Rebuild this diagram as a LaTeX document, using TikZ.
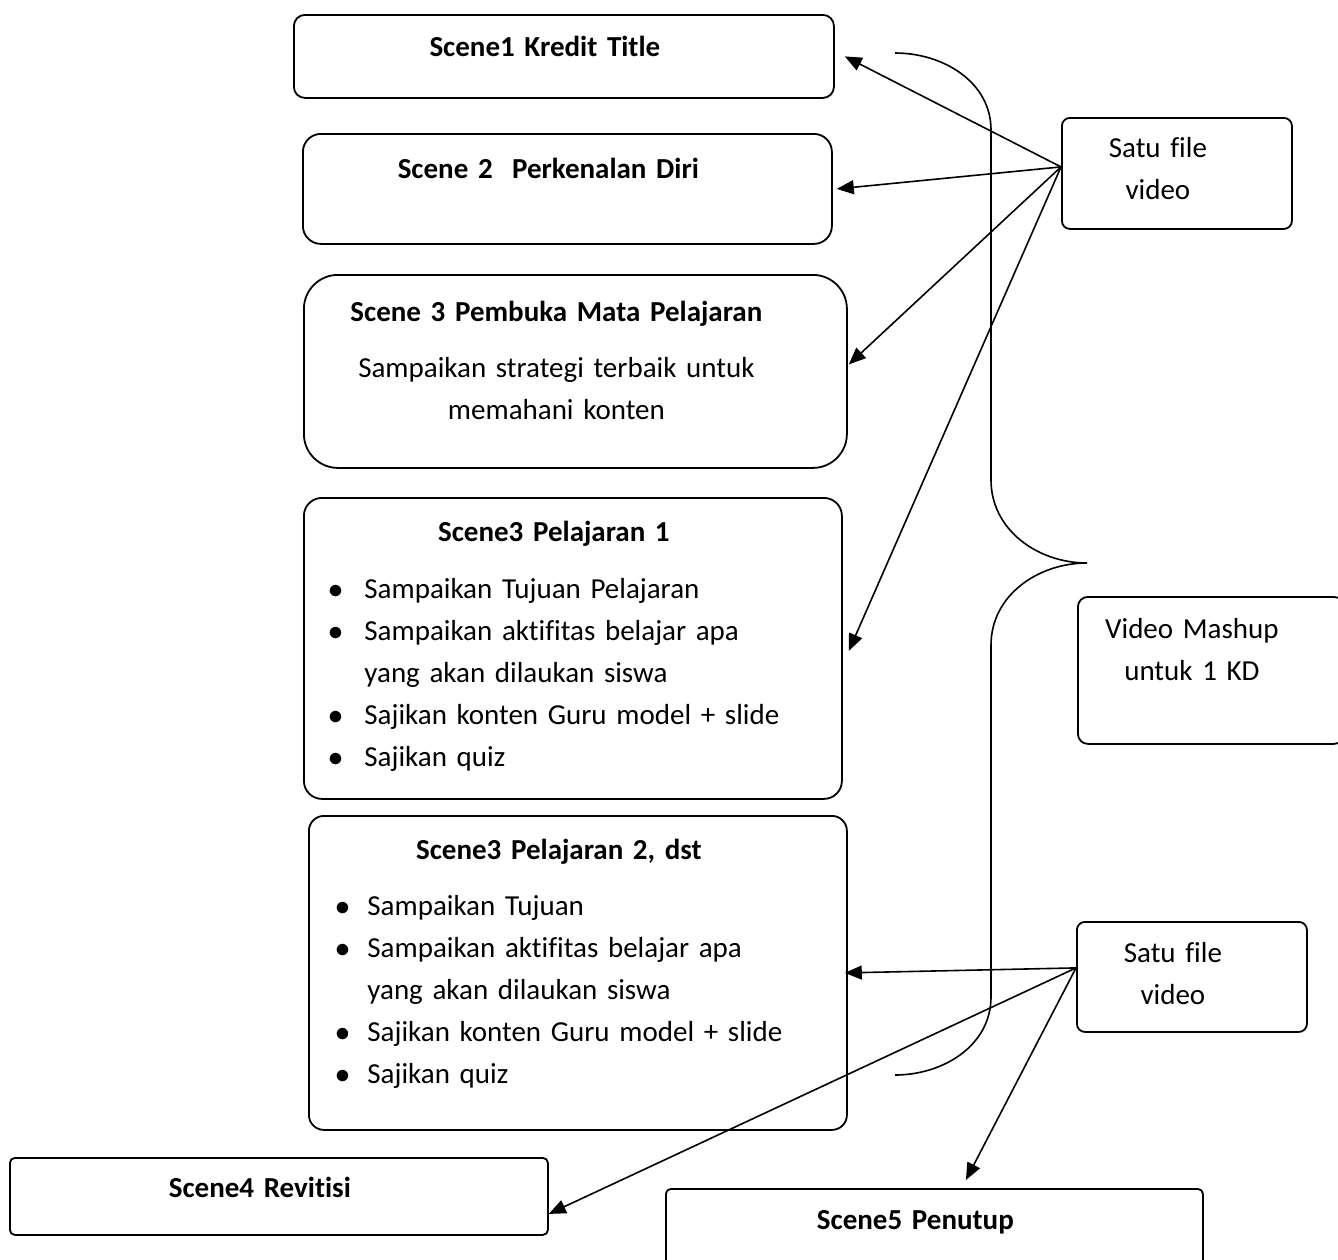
\documentclass[tikz,border=0pt]{standalone}
\usepackage{fontspec}
\setmainfont{Carlito}[Ligatures=NoCommon]
\usetikzlibrary{arrows.meta}

\newcommand{\bul}{\scalebox{1.2}{$\bullet$}}

\begin{document}
\begin{tikzpicture}[
  x=1pt, y=-1pt,
  every node/.style={font=\fontsize{29}{42}\selectfont},
  scene/.style={draw, line width=1.8pt, anchor=north west, align=center, inner sep=0pt,
    execute at begin node={\advance\rightskip by 38pt}},
  arrow/.style={-{Triangle[length=17pt,width=14pt]}, line width=1.6pt},
  brace/.style={line width=1.6pt}
]
\useasboundingbox (0,0) rectangle (1338,1259);

\node[scene, rounded corners=11pt, text width=540pt, text height=42pt, text depth=41pt] (scene1) at (293,14)
  {\textbf{Scene1 Kredit Title}};
\node[scene, rounded corners=18pt, text width=529pt, text height=45pt, text depth=65pt] (scene2) at (302,133)
  {\textbf{Scene 2\ \ Perkenalan Diri}};
\node[scene, rounded corners=34pt, text width=543pt, text height=47pt, text depth=146pt] (pembuka) at (303,274)
  {\textbf{Scene 3 Pembuka Mata Pelajaran}\\[14pt]
   Sampaikan strategi terbaik untuk\\ memahani konten};
\node[scene, rounded corners=18pt, text width=538pt, text height=44pt, text depth=257pt] (pel1) at (303,497)
  {\textbf{Scene3 Pelajaran 1}\\[15pt]
   \begin{tabular}[t]{@{}l@{\hspace{21pt}}l@{}}
   \bul & Sampaikan Tujuan Pelajaran\\
   \bul & Sampaikan aktifitas belajar apa\\
        & yang akan dilaukan siswa\\
   \bul & Sajikan konten Guru model + slide\\
   \bul & Sajikan quiz
   \end{tabular}};
\node[scene, rounded corners=15pt, text width=538pt, text height=44pt, text depth=270pt] (pel2) at (308,815)
  {\textbf{Scene3 Pelajaran 2, dst}\\[14pt]
   \begin{tabular}[t]{@{}l@{\hspace{17pt}}l@{}}
   \bul & Sampaikan Tujuan\\
   \bul & Sampaikan aktifitas belajar apa\\
        & yang akan dilaukan siswa\\
   \bul & Sajikan konten Guru model + slide\\
   \bul & Sajikan quiz
   \end{tabular}};
\node[scene, rounded corners=5pt, text width=538pt, text height=40pt, text depth=37pt] (scene4) at (9,1157)
  {\textbf{Scene4 Revitisi}};
\node[scene, rounded corners=5pt, text width=537pt, text height=41pt, text depth=100pt] (scene5) at (665,1188)
  {\textbf{Scene5 Penutup}};

\node[scene, rounded corners=8pt, text width=230pt, text height=40pt, text depth=71pt] (file1) at (1061,117)
  {Satu file\\video};
\node[scene, rounded corners=10pt, text width=266pt, text height=42pt, text depth=105pt] (mashup) at (1077,596)
  {Video Mashup\\untuk 1 KD};
\node[scene, rounded corners=8pt, text width=230pt, text height=41pt, text depth=69pt] (file2) at (1076,921)
  {Satu file\\video};

% brace
\draw[brace] (895,53) to[out=0,in=90] (991,130) -- (991,480) to[out=-90,in=180] (1087,563)
  to[out=180,in=90] (991,645) -- (991,997) to[out=-90,in=0] (895,1075);

% Arrows
\draw[arrow] ([yshift=6.5pt]file1.west) -- ([xshift=10pt]scene1.east);
\draw[arrow] ([yshift=6.5pt]file1.west) -- ([xshift=4pt]scene2.east);
\draw[arrow] ([yshift=6.5pt]file1.west) -- ([xshift=1pt,yshift=7pt]pembuka.east);
\draw[arrow] ([yshift=6.5pt]file1.west) -- ([xshift=6pt,yshift=-2.5pt]pel1.east);

\draw[arrow] ([yshift=9pt]file2.west) -- ([xshift=-3pt]pel2.east);
\draw[arrow] ([yshift=9pt]file2.west) -- ([yshift=-17.5pt]scene4.east);
\draw[arrow] ([yshift=9pt]file2.west) -- ([xshift=31.5pt,yshift=8pt]scene5.north);

\end{tikzpicture}
\end{document}
